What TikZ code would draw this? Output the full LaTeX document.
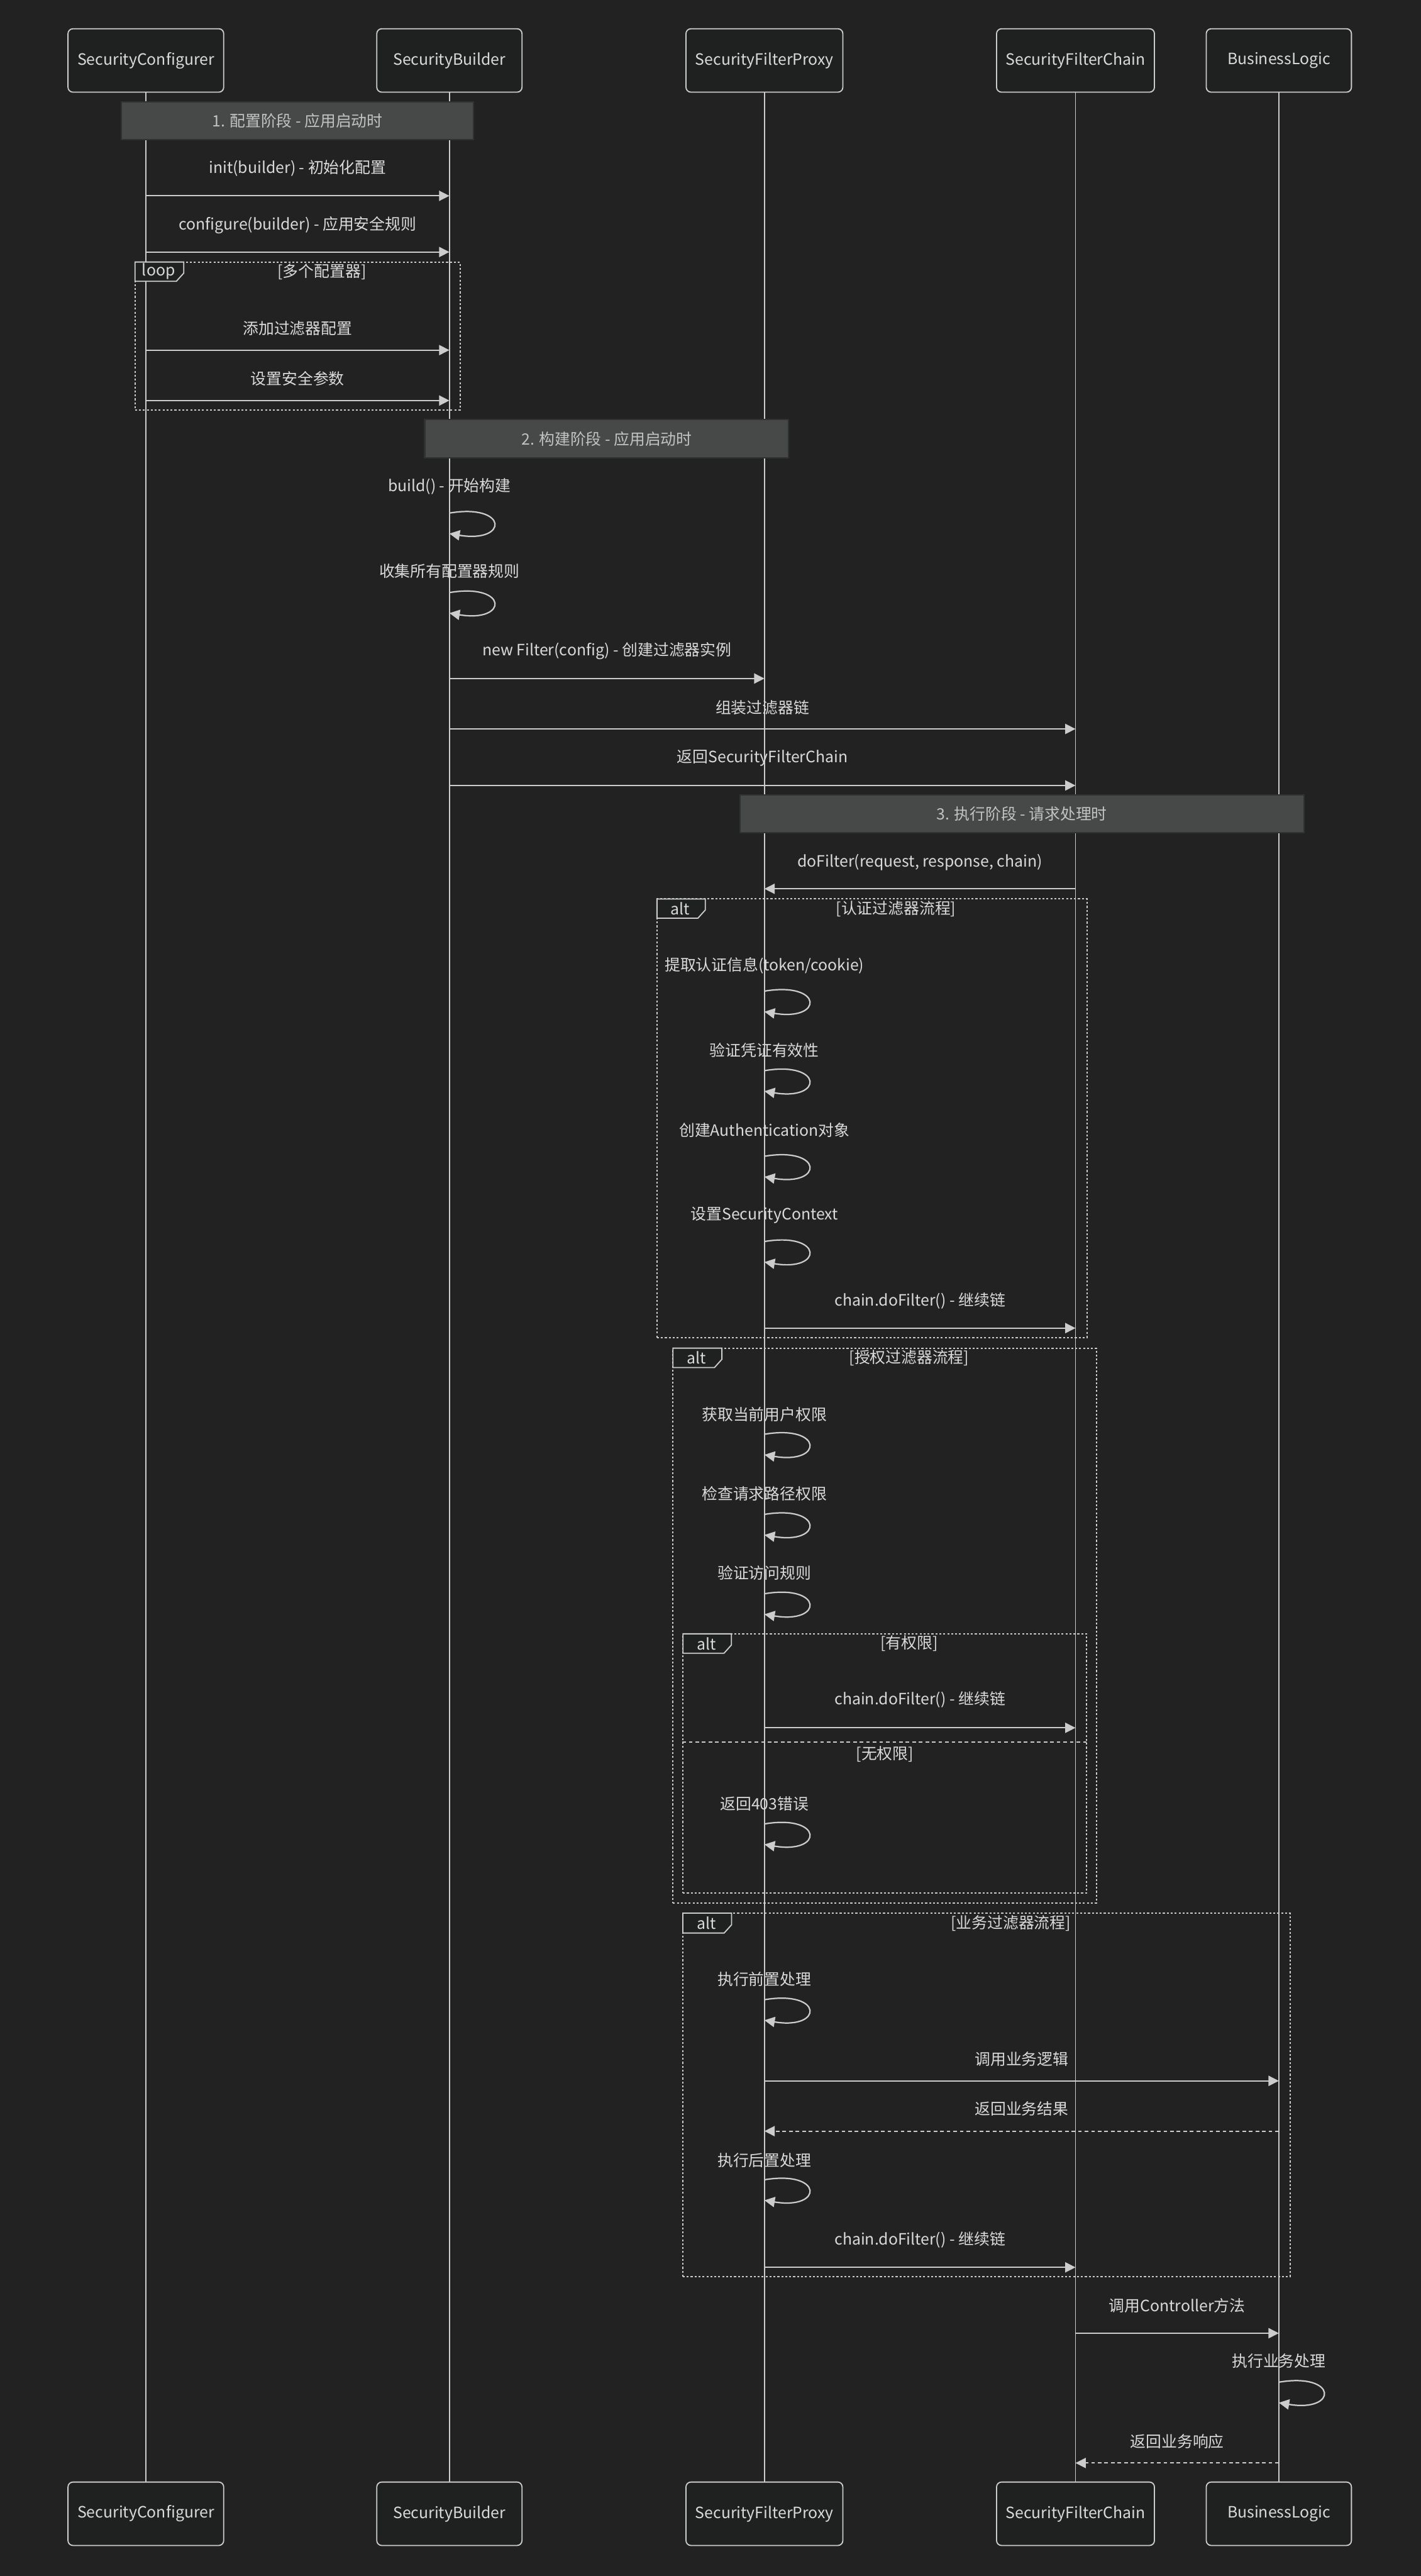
\documentclass[tikz,border=0pt]{standalone}
\usepackage{fontspec}
\setmainfont{Noto Sans CJK SC}
\usetikzlibrary{arrows.meta,calc}
\definecolor{bgc}{HTML}{222222}
\definecolor{actfill}{HTML}{1F2020}
\definecolor{linec}{HTML}{CCCCCC}
\definecolor{txtc}{HTML}{DADADA}
\definecolor{notefill}{HTML}{474949}
\definecolor{notedraw}{HTML}{303131}
\definecolor{notetxt}{HTML}{C2C2C2}
\newcommand\dfont{\fontsize{9.5}{11}\selectfont}
\tikzset{
  actor/.style={draw=linec, fill=actfill, line width=0.7pt, rounded corners=3pt,
    minimum height=38.6pt, text=txtc, inner sep=0pt, font=\dfont},
  lifeline/.style={draw=linec, line width=0.7pt},
  msgline/.style={draw=linec, line width=0.85pt, -{Triangle[length=6.3pt,width=6.2pt]}},
  retline/.style={msgline, dash pattern=on 2.2pt off 1.8pt},
  lbl/.style={text=txtc, inner sep=0pt, font=\dfont},
  notebox/.style={draw=notedraw, fill=notefill, line width=0.8pt, text=notetxt,
    inner sep=0pt, font=\dfont},
  frame/.style={draw=linec, line width=0.8pt, dash pattern=on 1.2pt off 1.2pt, inner sep=0pt},
  sepline/.style={draw=linec, line width=0.8pt, dash pattern=on 2.2pt off 1.8pt},
  tabbox/.style={draw=linec, line width=0.7pt, fill=actfill},
}
% name, from, to, arrow y, label y, text
\newcommand\Msg[6]{%
  \node[lbl] (#1) at ($(#2 |- 0,#5)!0.5!(#3 |- 0,#5)$) {#6};
  \draw[msgline] (#2 |- 0,#4) -- (#3 |- 0,#4);
}
\newcommand\RetMsg[6]{%
  \node[lbl] (#1) at ($(#2 |- 0,#5)!0.5!(#3 |- 0,#5)$) {#6};
  \draw[retline] (#2 |- 0,#4) -- (#3 |- 0,#4);
}
% name, lifeline, label y, loop y, text
\newcommand\SelfMsg[5]{%
  \node[lbl] (#1) at (#2 |- 0,#3) {#5};
  \draw[msgline] (#2 |- 0,#4) .. controls ($(#2 |- 0,#4)+(36,-6)$) and ($(#2 |- 0,#4)+(36,18.5)$) .. ($(#2 |- 0,#4)+(0,12.5)$);
}
% name, x0, y0, x1, y1, tab right, tab bottom, label
\newcommand\Frame[8]{%
  \node[frame, minimum width=#4pt-#2pt, minimum height=#5pt-#3pt] (#1) at ({(#2+#4)/2},{(#3+#5)/2}) {};
  \draw[tabbox] (#2,#3) -- (#6,#3) -- (#6,#7-5) -- (#6-4.5,#7) -- (#2,#7) -- cycle;
  \node[lbl] (#1tab) at ({(#2+#6)/2-0.5},{(#3+#7)/2}) {#8};
}
\begin{document}
\begin{tikzpicture}[x=1pt,y=-1pt]
\useasboundingbox (0,0) rectangle (865,1568);
\fill[bgc] (0,0) rectangle (865,1568);

% actors
\node[actor, minimum width=94.8pt] (cfgT) at (88.8,36.8) {SecurityConfigurer};
\node[actor, minimum width=88.4pt] (bldT) at (273.6,36.8) {SecurityBuilder};
\node[actor, minimum width=95.5pt] (sfpT) at (465.4,36.8) {SecurityFilterProxy};
\node[actor, minimum width=96.1pt] (sfcT) at (654.8,36.8) {SecurityFilterChain};
\node[actor, minimum width=88.4pt] (bizT) at (778.6,36.8) {BusinessLogic};
\node[actor, minimum width=94.8pt] (cfgB) at (88.8,1530.1) {SecurityConfigurer};
\node[actor, minimum width=88.4pt] (bldB) at (273.6,1530.1) {SecurityBuilder};
\node[actor, minimum width=95.5pt] (sfpB) at (465.4,1530.1) {SecurityFilterProxy};
\node[actor, minimum width=96.1pt] (sfcB) at (654.8,1530.1) {SecurityFilterChain};
\node[actor, minimum width=88.4pt] (bizB) at (778.6,1530.1) {BusinessLogic};

% lifelines
\draw[lifeline] (cfgT) -- (cfgB);
\draw[lifeline] (bldT) -- (bldB);
\draw[lifeline] (sfpT) -- (sfpB);
\draw[lifeline] (sfcT) -- (sfcB);
\draw[lifeline] (bizT) -- (bizB);

% notes
\node[notebox, minimum width=214.3pt, minimum height=23.1pt] (note1) at (181.05,73.55) {1. 配置阶段 - 应用启动时};
\node[notebox, minimum width=221.6pt, minimum height=23.1pt] (note2) at (369.4,267.05) {2. 构建阶段 - 应用启动时};
\node[notebox, minimum width=343.3pt, minimum height=23.2pt] (note3) at (622.15,495.4) {3. 执行阶段 - 请求处理时};

% frames
\Frame{loopA}{82.2}{159.5}{280.1}{249.5}{111.9}{171.2}{loop}
\node[lbl] (loopC) at (196,165.4) {[多个配置器]};
\Frame{altA}{400}{547.2}{661.7}{814.1}{429.4}{558.9}{alt}
\node[lbl] (altAC) at (545.5,553.2) {[认证过滤器流程]};
\Frame{altB}{409.7}{820.6}{667.5}{1158.3}{439.5}{832.4}{alt}
\node[lbl] (altBC) at (553.5,826.6) {[授权过滤器流程]};
\Frame{altC}{415.8}{994.5}{661.6}{1152.2}{445.3}{1006.3}{alt}
\node[lbl] (altCC) at (553.5,1000.5) {[有权限]};
\draw[sepline] (altC.west |- 0,1060.5) -- (altC.east |- 0,1060.5);
\node[lbl] (altCE) at (538.7,1067.9) {[无权限]};
\Frame{altD}{415.7}{1164.5}{785.4}{1385.8}{445.4}{1176.6}{alt}
\node[lbl] (altDC) at (615.4,1170.6) {[业务过滤器流程]};

% phase 1
\Msg{m1}{cfgT}{bldT}{119.2}{102.3}{init(builder) - 初始化配置}
\Msg{m2}{cfgT}{bldT}{153.4}{137.1}{configure(builder) - 应用安全规则}
\Msg{m3}{cfgT}{bldT}{213.1}{199.8}{添加过滤器配置}
\Msg{m4}{cfgT}{bldT}{243.8}{230.3}{设置安全参数}

% phase 2
\SelfMsg{s1}{bldT}{296.1}{312.3}{build() - 开始构建}
\SelfMsg{s2}{bldT}{347.7}{360.7}{收集所有配置器规则}
\Msg{m5}{bldT}{sfpT}{413}{396.4}{new Filter(config) - 创建过滤器实例}
\Msg{m6}{bldT}{sfcT}{443.7}{430.7}{组装过滤器链}
\Msg{m7}{bldT}{sfcT}{478.1}{461.4}{返回SecurityFilterChain}

% phase 3
\Msg{m8}{sfcT}{sfpT}{541}{525}{doFilter(request, response, chain)}
\SelfMsg{s3}{sfpT}{587.7}{603.3}{提取认证信息(token/cookie)}
\SelfMsg{s4}{sfpT}{639.4}{651.7}{验证凭证有效性}
\SelfMsg{s5}{sfpT}{687.8}{703.8}{创建Authentication对象}
\SelfMsg{s6}{sfpT}{739.7}{755.7}{设置SecurityContext}
\Msg{m9}{sfpT}{sfcT}{808.4}{791.9}{chain.doFilter() - 继续链}

\SelfMsg{s7}{sfpT}{860.8}{873}{获取当前用户权限}
\SelfMsg{s8}{sfpT}{909.2}{921.8}{检查请求路径权限}
\SelfMsg{s9}{sfpT}{957.3}{970.1}{验证访问规则}
\Msg{m10}{sfpT}{sfcT}{1051.7}{1034.7}{chain.doFilter() - 继续链}
\SelfMsg{s10}{sfpT}{1098}{1110.2}{返回403错误}

\SelfMsg{s11}{sfpT}{1204.9}{1217.2}{执行前置处理}
\Msg{m11}{sfpT}{bizT}{1266.6}{1253.3}{调用业务逻辑}
\RetMsg{m12}{bizT}{sfpT}{1297.2}{1283.7}{返回业务结果}
\SelfMsg{s12}{sfpT}{1314.8}{1326.8}{执行后置处理}
\Msg{m13}{sfpT}{sfcT}{1380.1}{1363.3}{chain.doFilter() - 继续链}

\Msg{m14}{sfcT}{bizT}{1420.2}{1403.3}{调用Controller方法}
\SelfMsg{s13}{bizT}{1437.2}{1450}{执行业务处理}
\RetMsg{m15}{bizT}{sfcT}{1499.2}{1485.9}{返回业务响应}
\end{tikzpicture}
\end{document}
